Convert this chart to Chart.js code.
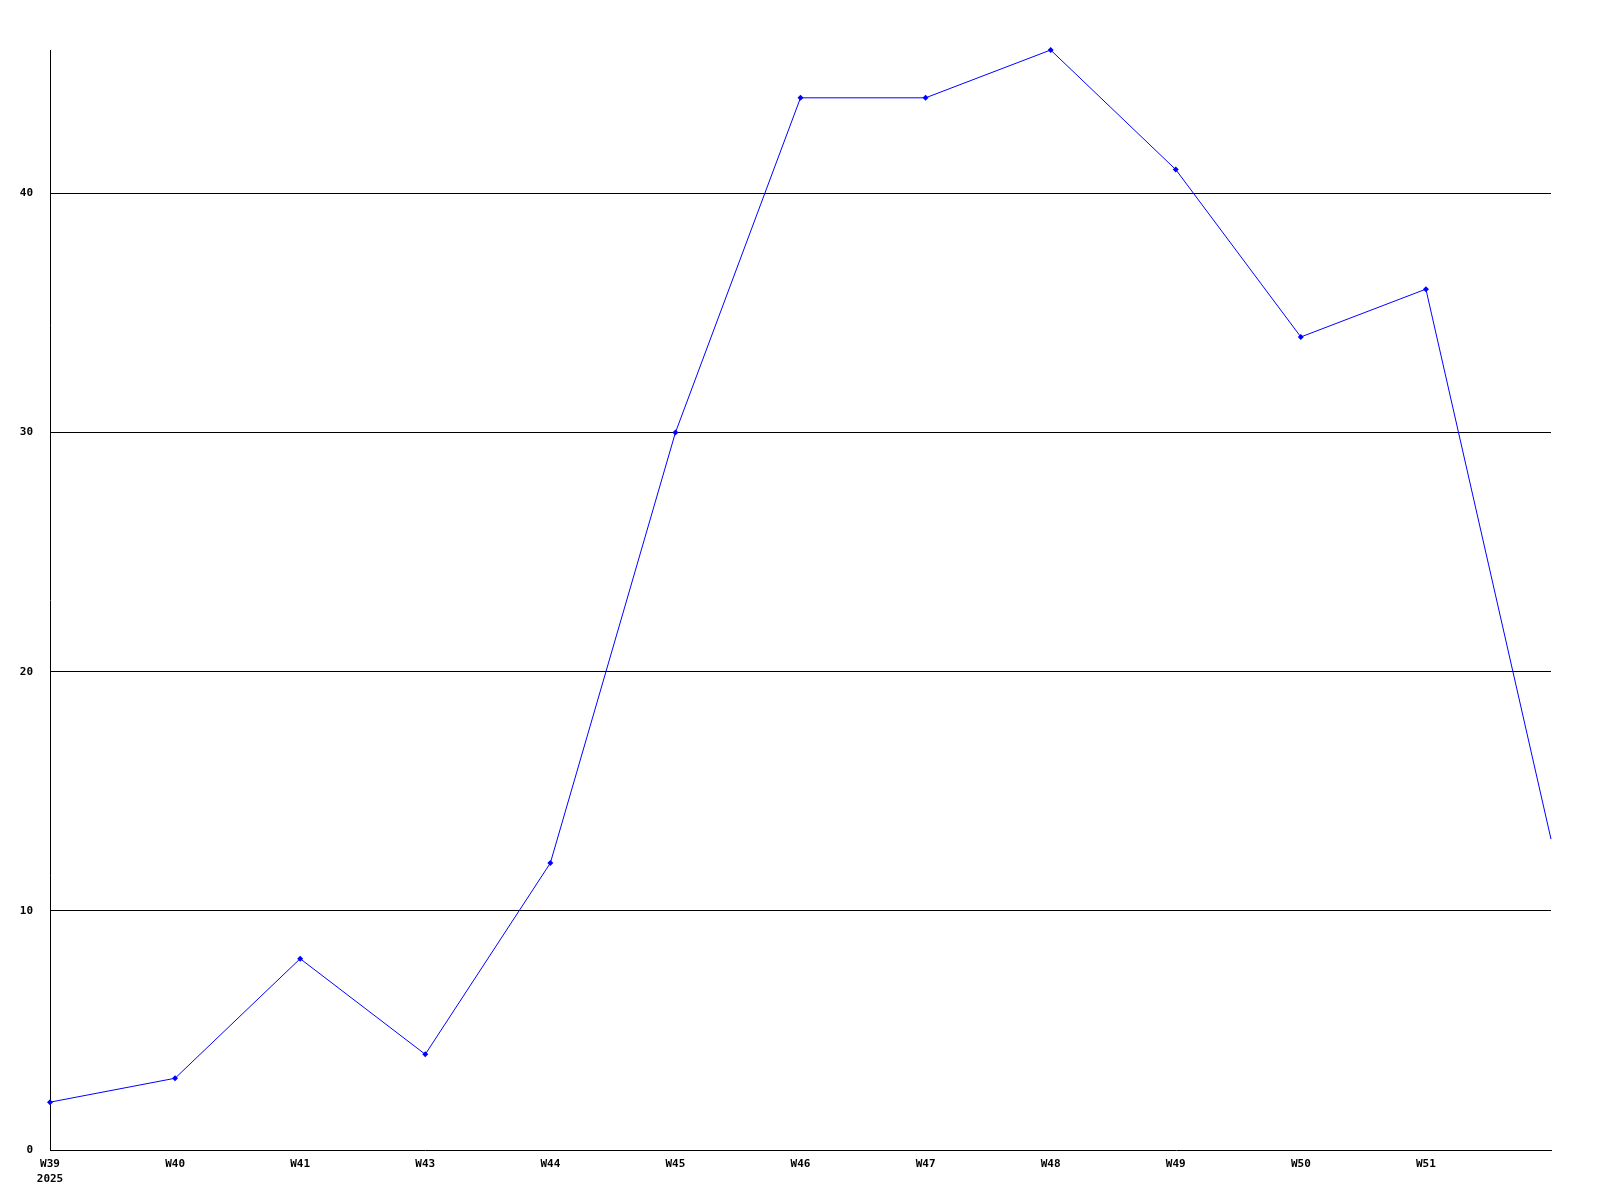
<!DOCTYPE html>
<html>
<head>
<meta charset="utf-8">
<script src="https://cdn.jsdelivr.net/npm/chart.js@4/dist/chart.umd.min.js"></script>
<style>
	html, body { margin: 0; padding: 0; background: #fff; }
	canvas { display: block; }
</style>
</head>
<body>
<canvas id="weekly-chart" width="1600" height="1200"></canvas>
<script>
const weeks = [['W39', '2025'], 'W40', 'W41', 'W43', 'W44', 'W45', 'W46', 'W47', 'W48', 'W49', 'W50', 'W51', '']
const counts = [2, 3, 8, 4, 12, 30, 44, 44, 46, 41, 34, 36, 13]
const yTicks = [0, 10, 20, 30, 40]

const tickFont = { family: 'DejaVu Sans Mono', size: 11, weight: 'bold', lineHeight: '15px' }

const lineChart = (id) => {
	new Chart(id, {
		type: 'line',
		data: {
			labels: weeks,
			datasets: [
				{
					data: counts,
					borderColor: '#0000ff',
					backgroundColor: '#0000ff',
					borderWidth: 1,
					pointStyle: 'rectRot',
					pointRadius: (ctx) => (ctx.dataIndex === counts.length - 1 ? 0 : 3),
					pointBorderWidth: 0,
					tension: 0,
					fill: false,
					clip: false
				}
			]
		},
		options: {
			responsive: false,
			animation: false,
			layout: { padding: { top: 50, right: 49, left: 0, bottom: 0 } },
			plugins: { legend: { display: false }, tooltip: { enabled: false } },
			scales: {
				x: {
					offset: false,
					grid: { display: false, drawTicks: false },
					border: { display: true, color: '#000', width: 1 },
					ticks: { color: '#000', font: tickFont, padding: 7, maxRotation: 0, autoSkip: false },
					afterFit: (scale) => { scale.height = 50 }
				},
				y: {
					min: 0,
					max: 46,
					afterBuildTicks: (scale) => { scale.ticks = yTicks.map((v) => ({ value: v })) },
					grid: { color: (ctx) => (ctx.tick && ctx.tick.value === 0 ? 'rgba(0,0,0,0)' : '#000'), drawTicks: false, lineWidth: 1 },
					border: { display: true, color: '#000', width: 1 },
					ticks: { color: '#000', font: tickFont, padding: 17 },
					afterFit: (scale) => { scale.width = 50 }
				}
			}
		}
	})
}

lineChart('weekly-chart')
</script>
</body>
</html>
